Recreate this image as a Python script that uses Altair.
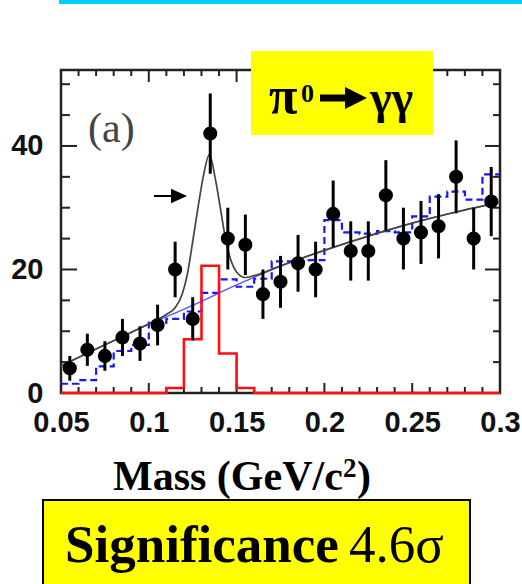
import altair as alt
import pandas as pd

# ---------------- data ----------------
bin_lo = [0.05, 0.06, 0.07, 0.08, 0.09, 0.10, 0.11, 0.12, 0.13, 0.14, 0.15, 0.16, 0.17,
          0.18, 0.19, 0.20, 0.21, 0.22, 0.23, 0.24, 0.25, 0.26, 0.27, 0.28, 0.29]
bin_hi_end = 0.30
centers = [0.055, 0.065, 0.075, 0.085, 0.095, 0.105, 0.115, 0.125, 0.135, 0.145, 0.155, 0.165,
           0.175, 0.185, 0.195, 0.205, 0.215, 0.225, 0.235, 0.245, 0.255, 0.265, 0.275, 0.285, 0.295]
counts = [4, 7, 6, 9, 8, 11, 20, 12, 42, 25, 24, 16, 18, 21, 20, 29, 23, 23, 32, 25, 26, 27, 35, 25, 31]
errors = [2.0, 2.6, 2.4, 3.0, 2.8, 3.3, 4.5, 3.5, 6.5, 5.0, 4.9, 4.0, 4.2, 4.6, 4.5, 5.4,
          4.8, 4.8, 5.7, 5.0, 5.1, 5.2, 5.9, 5.0, 5.6]
signal_mc = [0, 0, 0, 0, 0, 0, 0.8, 8.7, 20.6, 6.4, 0.8, 0, 0, 0, 0, 0, 0, 0, 0, 0, 0, 0, 0, 0, 0]
bkg_mc = [1.5, 2.1, 4.3, 6.8, 7.8, 11.4, 12.0, 13.2, 16.2, 18.4, 17.2, 18.5, 21.3, 21.3, 21.5,
          28.0, 26.0, 25.8, 26.2, 26.0, 28.6, 31.8, 32.6, 31.3, 35.4]
fit_x = [0.050, 0.075, 0.100, 0.110, 0.115, 0.119, 0.122, 0.125, 0.128, 0.131, 0.1345, 0.138,
         0.141, 0.144, 0.147, 0.150, 0.155, 0.160, 0.175, 0.200, 0.225, 0.250, 0.275, 0.300]
fit_y = [4.4, 7.8, 11.2, 12.7, 13.8, 16.0, 19.3, 24.5, 30.0, 35.0, 38.6, 34.5,
         29.5, 24.5, 21.3, 19.6, 18.7, 19.0, 20.6, 23.1, 25.4, 27.5, 29.3, 30.9]
bkg_x = [0.050, 0.075, 0.100, 0.125, 0.150, 0.175, 0.200, 0.225, 0.250, 0.275, 0.300]
bkg_y = [4.4, 7.8, 11.1, 14.2, 17.5, 20.5, 23.1, 25.4, 27.5, 29.3, 30.9]

x_major = [0.05, 0.10, 0.15, 0.20, 0.25, 0.30]
x_minor = [0.06, 0.07, 0.08, 0.09, 0.11, 0.12, 0.13, 0.14, 0.16, 0.17, 0.18, 0.19,
           0.21, 0.22, 0.23, 0.24, 0.26, 0.27, 0.28, 0.29]
y_major = [0, 20, 40]
y_minor = [5, 10, 15, 25, 30, 35, 45, 50]

# ---------------- tables ----------------
W, H = 439, 323
xs = alt.Scale(domain=[0.05, 0.30], nice=False, zero=False)
ys = alt.Scale(domain=[0, 52.3], nice=False, zero=True)

pts = pd.DataFrame({"m": centers, "n": counts, "e": errors})
pts["lo"] = pts["n"] - pts["e"]
pts["hi"] = pts["n"] + pts["e"]
sig = pd.DataFrame({"m": bin_lo + [bin_hi_end], "v": signal_mc + [signal_mc[-1]]})
bkh = pd.DataFrame({"m": bin_lo + [bin_hi_end], "v": bkg_mc + [bkg_mc[-1]]})
fit = pd.DataFrame({"m": fit_x, "v": fit_y})
bkg = pd.DataFrame({"m": bkg_x, "v": bkg_y})
one = pd.DataFrame({"a": [0]})

x_axis = alt.Axis(values=x_major, format="~g", domain=False, ticks=False, tickSize=0,
                  grid=False, labelFont="Liberation Sans", labelFontWeight="bold",
                  labelFontSize=29, labelColor="#111", labelPadding=15, title=None,
                  labelFlush=False, labelOverlap=False)
y_axis = alt.Axis(values=y_major, format="d", domain=False, ticks=False, tickSize=0,
                  grid=False, labelFont="Liberation Sans", labelFontWeight="bold",
                  labelFontSize=29, labelColor="#111", labelPadding=18, title=None,
                  labelFlush=False, labelOverlap=False)


def X(field="m"):
    return alt.X(field, type="quantitative", scale=xs, axis=x_axis)


def Y(field="v"):
    return alt.Y(field, type="quantitative", scale=ys, axis=y_axis)


frame = alt.Chart(one).mark_rect(filled=False, stroke="#222", strokeWidth=2.5).encode(
    x=alt.value(0), x2=alt.value(W), y=alt.value(0), y2=alt.value(H))

tick_style = dict(color="#222", strokeWidth=2)
xmaj = pd.DataFrame({"m": x_major})
xmin = pd.DataFrame({"m": x_minor})
ymaj = pd.DataFrame({"v": y_major})
ymin = pd.DataFrame({"v": y_minor})
ticks = [
    alt.Chart(xmaj).mark_rule(**tick_style).encode(x=X(), y=alt.value(H), y2=alt.value(H - 10)),
    alt.Chart(xmin).mark_rule(**tick_style).encode(x=X(), y=alt.value(H), y2=alt.value(H - 6)),
    alt.Chart(xmaj).mark_rule(**tick_style).encode(x=X(), y=alt.value(0), y2=alt.value(12)),
    alt.Chart(xmin).mark_rule(**tick_style).encode(x=X(), y=alt.value(0), y2=alt.value(6)),
    alt.Chart(ymaj).mark_rule(**tick_style).encode(y=Y(), x=alt.value(0), x2=alt.value(16)),
    alt.Chart(ymin).mark_rule(**tick_style).encode(y=Y(), x=alt.value(0), x2=alt.value(9)),
    alt.Chart(ymaj).mark_rule(**tick_style).encode(y=Y(), x=alt.value(W), x2=alt.value(W - 15)),
    alt.Chart(ymin).mark_rule(**tick_style).encode(y=Y(), x=alt.value(W), x2=alt.value(W - 7)),
]

blue_hist = alt.Chart(bkh).mark_line(interpolate="step-after", color="#1515ff", strokeWidth=2.2,
                                     strokeDash=[7, 4]).encode(x=X(), y=Y())
bkg_line = alt.Chart(bkg).mark_line(interpolate="monotone", color="#3a3aff", strokeWidth=1.4,
                                    opacity=0.85).encode(x=X(), y=Y())
fit_line = alt.Chart(fit).mark_line(interpolate="monotone", color="#444", strokeWidth=1.7
                                    ).encode(x=X(), y=Y())
red_hist = alt.Chart(sig).mark_line(interpolate="step-after", color="#ff1010", strokeWidth=2.6
                                    ).encode(x=X(), y=Y())
bars = alt.Chart(pts).mark_rule(color="#000", strokeWidth=3).encode(
    x=X("m"), y=Y("lo"), y2="hi")
dots = alt.Chart(pts).mark_circle(color="#000", size=200, opacity=1).encode(x=X("m"), y=Y("n"))

# ---------------- annotations ----------------
def txt(text, x, y, size, weight="normal", font="Liberation Serif", color="#000", align="left"):
    return alt.Chart(one).mark_text(text=text, font=font, fontWeight=weight, fontSize=size,
                                    color=color, align=align, baseline="alphabetic").encode(
        x=alt.value(x), y=alt.value(y))


cyan = alt.Chart(one).mark_rule(color="#00ccff", strokeWidth=4).encode(
    x=alt.value(-2), x2=alt.value(470), y=alt.value(-68))
label_a = txt("(a)", 27, 72, 42, color="#444")
small_shaft = alt.Chart(one).mark_rule(color="#000", strokeWidth=2).encode(
    x=alt.value(93), x2=alt.value(114), y=alt.value(126))
small_head = alt.Chart(one).mark_point(shape="M-1,-0.9L1,0L-1,0.9Z", filled=True, color="#000",
                                       size=256, opacity=1).encode(
    x=alt.value(118), y=alt.value(126))

ybox = alt.Chart(one).mark_rect(color="#ffff00").encode(
    x=alt.value(190), x2=alt.value(372), y=alt.value(-19), y2=alt.value(65))
pi_t = txt("π", 208, 43, 52, "bold")
zero_t = txt("0", 240, 32, 26, "bold")
big_shaft = alt.Chart(one).mark_rule(color="#000", strokeWidth=7).encode(
    x=alt.value(259), x2=alt.value(286), y=alt.value(28))
big_head = alt.Chart(one).mark_point(shape="M-1,-1L1,0L-1,1Z", filled=True, color="#000",
                                     size=480, opacity=1).encode(
    x=alt.value(295), y=alt.value(28))
gam_t = txt("γγ", 309, 43, 46, "bold")

mass_a = txt("Mass (GeV/c", 52, 420, 42, "bold")
mass_b = txt("2", 282, 407, 27, "bold")
mass_c = txt(")", 296, 420, 42, "bold")

sbox = alt.Chart(one).mark_rect(color="#ffff00", stroke="#000", strokeWidth=2).encode(
    x=alt.value(-18), x2=alt.value(409), y=alt.value(430), y2=alt.value(530))
sig_t = txt("Significance", 4, 492, 53, "bold")
sig_v = txt("4.6σ", 288, 492, 53, "normal")

chart = alt.layer(
    frame, *ticks, blue_hist, bkg_line, fit_line, red_hist, bars, dots,
    cyan, label_a, small_shaft, small_head, ybox, pi_t, zero_t, big_shaft, big_head, gam_t,
    mass_a, mass_b, mass_c, sbox, sig_t, sig_v,
).properties(
    width=W, height=H,
    autosize=alt.AutoSizeParams(type="none"),
    padding={"left": 61, "top": 70, "right": 22, "bottom": 191},
    background="white",
).configure_view(stroke=None)

chart.save("out.html", embed_options={"renderer": "svg", "actions": False})
